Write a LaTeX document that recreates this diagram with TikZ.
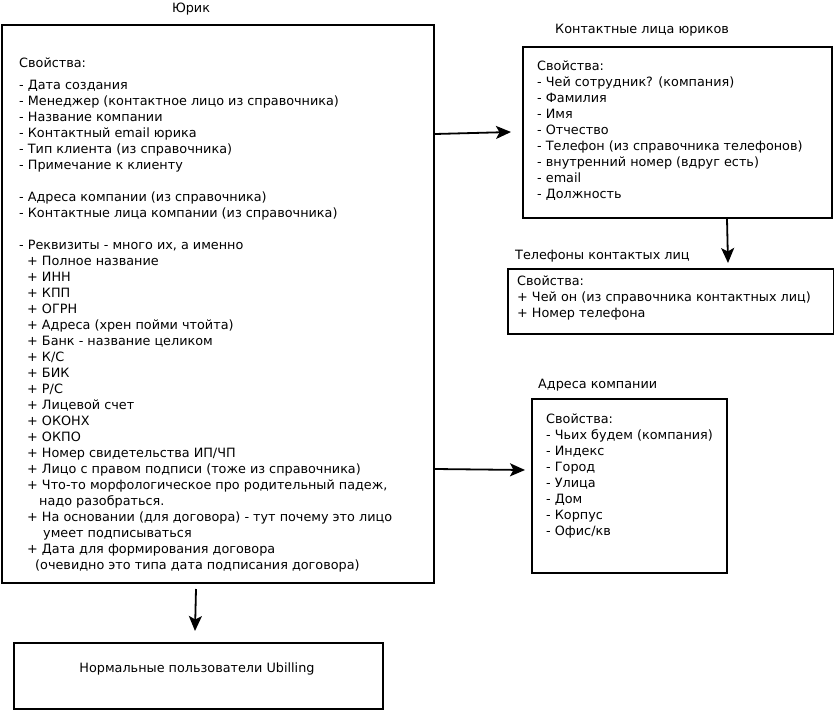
\documentclass[tikz,border=0pt]{standalone}
\usepackage{fontspec}
\setmainfont{DejaVu Sans}
\usetikzlibrary{arrows.meta}
\begin{document}
\begin{tikzpicture}[x=1pt,y=-1pt,
  box/.style={draw,line width=2pt,rectangle,anchor=north west,inner sep=0pt},
  txt/.style={anchor=base west,align=left,inner sep=0pt,font=\fontsize{12.8}{16}\selectfont},
  ttl/.style={anchor=base west,inner sep=0pt,font=\fontsize{12.8}{16}\selectfont},
  arr/.style={line width=1.8pt,-{Stealth[length=15pt,width=13pt,inset=3.5pt]}}]
\useasboundingbox (0,0) rectangle (834,709);
% boxes
\node[box,minimum width=432pt,minimum height=558pt] (yurik) at (1,24) {};
\node[box,minimum width=309pt,minimum height=171pt] (contacts) at (522,46) {};
\node[box,minimum width=326pt,minimum height=65pt] (phones) at (507,268) {};
\node[box,minimum width=195pt,minimum height=174pt] (addr) at (531,398) {};
\node[box,minimum width=369pt,minimum height=66pt] (users) at (13,642) {};
% titles
\node[ttl,anchor=base] (tyurik) at (191,12.5) {Юрик};
\node[ttl] (tcontacts) at (555,33.5) {Контактные лица юриков};
\node[ttl] (tphones) at (515,259) {Телефоны контактых лиц};
\node[ttl] (taddr) at (538,388) {Адреса компании};
% texts (anchor = baseline of the last line)
\node[txt] (yprops) at (19,67.5) {Свойства:};
\node[txt] (ylist) at (19,569.5) {- Дата создания\\
- Менеджер (контактное лицо из справочника)\\
- Название компании\\
- Контактный email юрика\\
- Тип клиента (из справочника)\\
- Примечание к клиенту\\[16pt]
- Адреса компании (из справочника)\\
- Контактные лица компании (из справочника)\\[16pt]
- Реквизиты - много их, а именно\\
\hspace*{8pt}+ Полное название\\
\hspace*{8pt}+ ИНН\\
\hspace*{8pt}+ КПП\\
\hspace*{8pt}+ ОГРН\\
\hspace*{8pt}+ Адреса (хрен пойми чтойта)\\
\hspace*{8pt}+ Банк - название целиком\\
\hspace*{8pt}+ К/С\\
\hspace*{8pt}+ БИК\\
\hspace*{8pt}+ Р/С\\
\hspace*{8pt}+ Лицевой счет\\
\hspace*{8pt}+ ОКОНХ\\
\hspace*{8pt}+ ОКПО\\
\hspace*{8pt}+ Номер свидетельства ИП/ЧП\\
\hspace*{8pt}+ Лицо с правом подписи (тоже из справочника)\\
\hspace*{8pt}+ Что-то морфологическое про родительный падеж,\\
\hspace*{20pt}надо разобраться.\\
\hspace*{8pt}+ На основании (для договора) - тут почему это лицо\\
\hspace*{24pt}умеет подписываться\\
\hspace*{8pt}+ Дата для формирования договора\\
\hspace*{16pt}(очевидно это типа дата подписания договора)};
\node[txt] (clist) at (537,198.5) {Свойства:\\
- Чей сотрудник? (компания)\\
- Фамилия\\
- Имя\\
- Отчество\\
- Телефон (из справочника телефонов)\\
- внутренний номер (вдруг есть)\\
- email\\
- Должность};
\node[txt] (plist) at (517,317.5) {Свойства:\\
+ Чей он (из справочника контактных лиц)\\
+ Номер телефона};
\node[txt] (alist) at (546,535.5) {Свойства:\\
- Чьих будем (компания)\\
- Индекс\\
- Город\\
- Улица\\
- Дом\\
- Корпус\\
- Офис/кв};
\node[txt,anchor=base] (utext) at (197,672.5) {Нормальные пользователи Ubilling};
% arrows
\coordinate (a1s) at (435,134);
\coordinate (a1e) at (511,132);
\coordinate (a2s) at (727,219);
\coordinate (a2e) at (728,263);
\coordinate (a3s) at (435,469);
\coordinate (a3e) at (525,470);
\coordinate (a4s) at (196,589);
\coordinate (a4e) at (195,631);
\draw[arr] (a1s) -- (a1e);
\draw[arr] (a2s) -- (a2e);
\draw[arr] (a3s) -- (a3e);
\draw[arr] (a4s) -- (a4e);
\end{tikzpicture}
\end{document}
